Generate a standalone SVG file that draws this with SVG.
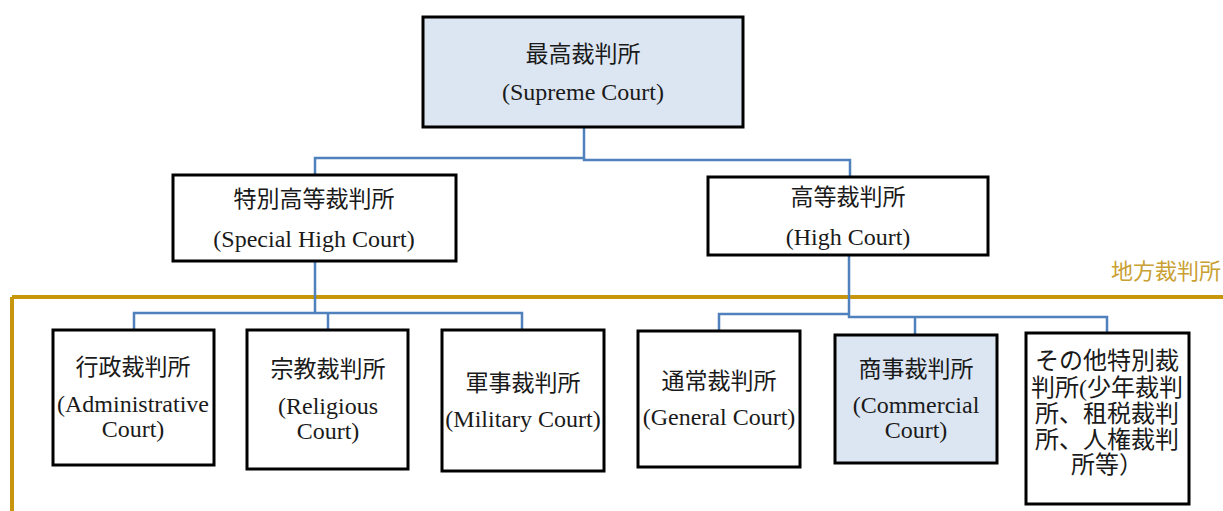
<svg xmlns="http://www.w3.org/2000/svg" width="1223" height="511" viewBox="0 0 1223 511">
<style>
.box{fill:#ffffff;stroke:#000000;stroke-width:3}
.blue{fill:#dce6f2}
.t{font-family:"Liberation Serif","Noto Sans CJK JP",serif;font-size:23px;fill:#1a1a1a;text-anchor:middle}
.e{font-size:24px}
.o{font-size:24px}
.conn{fill:none;stroke:#4f81bd;stroke-width:2.5}
.gold{fill:none;stroke:#c8960c;stroke-width:4}
.goldt{font-family:"Noto Sans CJK JP",sans-serif;font-size:22px;fill:#c9a032;text-anchor:end}
</style>
<rect width="1223" height="511" fill="#ffffff"/>
<g id="region">
<path class="gold" d="M12 297 H1223 M12 297 V511"/>
<text class="goldt" x="1221" y="279">地方裁判所</text>
</g>
<g id="connectors">
<path class="conn" d="M584 127 V158 H315 V175"/>
<path class="conn" d="M584 158 V160 H850 V177"/>
<path class="conn" d="M315 261 V313 H134 V330 M315 313 H522 V330 M328 313 V330"/>
<path class="conn" d="M849 255 V317 H1107 V333 M849 314 H719 V331 M915 317 V335"/>
</g>
<g id="supreme">
<rect class="box blue" x="423" y="17" width="320" height="110"/>
<text class="t" x="583" y="62">最高裁判所</text>
<text class="t e" x="583" y="100">(Supreme Court)</text>
</g>
<g id="special-high">
<rect class="box" x="173" y="175" width="283" height="86"/>
<text class="t" x="314" y="207">特別高等裁判所</text>
<text class="t e" x="314" y="247">(Special High Court)</text>
</g>
<g id="high">
<rect class="box" x="708" y="177" width="280" height="78"/>
<text class="t" x="848" y="205">高等裁判所</text>
<text class="t e" x="848" y="245">(High Court)</text>
</g>
<g id="administrative">
<rect class="box" x="53" y="330" width="161" height="135"/>
<text class="t" x="133" y="375">行政裁判所</text>
<text class="t e" x="133" y="412">(Administrative</text>
<text class="t e" x="133" y="437">Court)</text>
</g>
<g id="religious">
<rect class="box" x="247" y="330" width="161" height="139"/>
<text class="t" x="328" y="377">宗教裁判所</text>
<text class="t e" x="328" y="414">(Religious</text>
<text class="t e" x="328" y="439">Court)</text>
</g>
<g id="military">
<rect class="box" x="442" y="330" width="162" height="141"/>
<text class="t" x="523" y="391">軍事裁判所</text>
<text class="t e" x="523" y="427">(Military Court)</text>
</g>
<g id="general">
<rect class="box" x="638" y="331" width="162" height="136"/>
<text class="t" x="719" y="389">通常裁判所</text>
<text class="t e" x="719" y="425">(General Court)</text>
</g>
<g id="commercial">
<rect class="box blue" x="835" y="335" width="162" height="128"/>
<text class="t" x="916" y="377">商事裁判所</text>
<text class="t e" x="916" y="413">(Commercial</text>
<text class="t e" x="916" y="438">Court)</text>
</g>
<g id="other-special">
<rect class="box" x="1026" y="333" width="163" height="171"/>
<text class="t o" x="1107" y="369">その他特別裁</text>
<text class="t o" x="1107" y="396">判所(少年裁判</text>
<text class="t o" x="1107" y="422">所、租税裁判</text>
<text class="t o" x="1107" y="448">所、人権裁判</text>
<text class="t o" x="1107" y="473">所等）</text>
</g>
</svg>
